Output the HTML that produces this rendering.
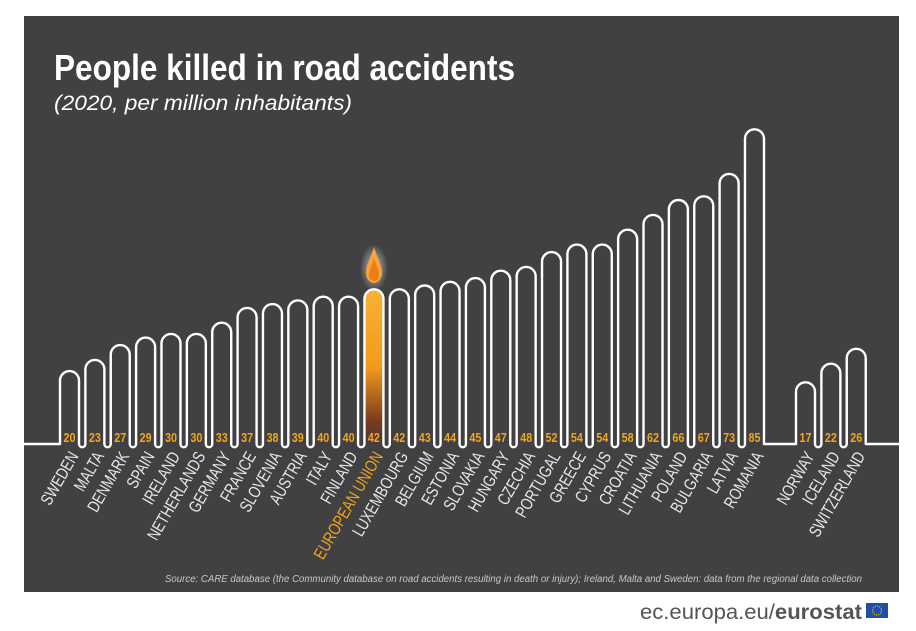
<!DOCTYPE html>
<html><head><meta charset="utf-8"><style>
body{margin:0;background:#fff;width:916px;height:631px;overflow:hidden}
svg{display:block}
.t{font-family:"Liberation Sans Narrow","Liberation Sans",sans-serif}
.v{font-family:"Liberation Sans Narrow","Liberation Sans",sans-serif;font-weight:bold;font-size:12.5px;fill:#f3a51b;text-anchor:middle}
.c{font-family:"Liberation Sans Narrow","Liberation Sans",sans-serif;font-size:17px;fill:#e8e8e8;text-anchor:end}
</style></head><body>
<svg width="916" height="631" viewBox="0 0 916 631" xmlns="http://www.w3.org/2000/svg">
<defs>
<linearGradient id="eu" x1="0" y1="0" x2="0" y2="1">
<stop offset="0" stop-color="#f9b233"/><stop offset="0.5" stop-color="#f39a1e"/><stop offset="0.85" stop-color="#7a3b1c"/><stop offset="1" stop-color="#4a3a3c"/>
</linearGradient>
<radialGradient id="glow"><stop offset="0" stop-color="#fff" stop-opacity="0.7"/><stop offset="1" stop-color="#fff" stop-opacity="0"/></radialGradient>
</defs>
<rect x="24" y="16" width="875" height="576" fill="#414042"/>
<text x="54" y="80" class="t" font-size="36" font-weight="bold" fill="#fff" textLength="461" lengthAdjust="spacingAndGlyphs">People killed in road accidents</text>
<text x="54" y="110" class="t" font-size="21" font-style="italic" fill="#fff" textLength="298" lengthAdjust="spacingAndGlyphs">(2020, per million inhabitants)</text>

<rect x="364.4" y="289.3" width="19" height="155" rx="9.5" fill="url(#eu)"/>
<ellipse cx="374" cy="268" rx="14" ry="24" fill="url(#glow)"/>
<path d="M374 247 C377 257 382 265 382 273 C382 279 378 283 374 283 C370 283 366 279 366 273 C366 265 371 257 374 247Z" fill="#f7a43a"/>
<path d="M374 258 C376 265 379 270 379 275 C379 279 377 281 374 281 C371 281 369 279 369 275 C369 270 372 265 374 258Z" fill="#ee7d18"/>

<path fill="none" stroke="#fff" stroke-width="2.4" stroke-linejoin="round" d="M24 444 H60
V380.6 a9.5 9.5 0 0 1 19 0 V444 a3.185 3.185 0 0 0 6.37 0
V369.4 a9.5 9.5 0 0 1 19 0 V444 a3.185 3.185 0 0 0 6.37 0
V354.6 a9.5 9.5 0 0 1 19 0 V444 a3.185 3.185 0 0 0 6.37 0
V347.1 a9.5 9.5 0 0 1 19 0 V444 a3.185 3.185 0 0 0 6.37 0
V343.4 a9.5 9.5 0 0 1 19 0 V444 a3.185 3.185 0 0 0 6.37 0
V343.4 a9.5 9.5 0 0 1 19 0 V444 a3.185 3.185 0 0 0 6.37 0
V332.2 a9.5 9.5 0 0 1 19 0 V444 a3.185 3.185 0 0 0 6.37 0
V317.4 a9.5 9.5 0 0 1 19 0 V444 a3.185 3.185 0 0 0 6.37 0
V313.6 a9.5 9.5 0 0 1 19 0 V444 a3.185 3.185 0 0 0 6.37 0
V309.9 a9.5 9.5 0 0 1 19 0 V444 a3.185 3.185 0 0 0 6.37 0
V306.2 a9.5 9.5 0 0 1 19 0 V444 a3.185 3.185 0 0 0 6.37 0
V306.2 a9.5 9.5 0 0 1 19 0 V444 a3.185 3.185 0 0 0 6.37 0
V298.8 a9.5 9.5 0 0 1 19 0 V444 a3.185 3.185 0 0 0 6.37 0
V298.8 a9.5 9.5 0 0 1 19 0 V444 a3.185 3.185 0 0 0 6.37 0
V295.0 a9.5 9.5 0 0 1 19 0 V444 a3.185 3.185 0 0 0 6.37 0
V291.3 a9.5 9.5 0 0 1 19 0 V444 a3.185 3.185 0 0 0 6.37 0
V287.6 a9.5 9.5 0 0 1 19 0 V444 a3.185 3.185 0 0 0 6.37 0
V280.2 a9.5 9.5 0 0 1 19 0 V444 a3.185 3.185 0 0 0 6.37 0
V276.4 a9.5 9.5 0 0 1 19 0 V444 a3.185 3.185 0 0 0 6.37 0
V261.6 a9.5 9.5 0 0 1 19 0 V444 a3.185 3.185 0 0 0 6.37 0
V254.1 a9.5 9.5 0 0 1 19 0 V444 a3.185 3.185 0 0 0 6.37 0
V254.1 a9.5 9.5 0 0 1 19 0 V444 a3.185 3.185 0 0 0 6.37 0
V239.2 a9.5 9.5 0 0 1 19 0 V444 a3.185 3.185 0 0 0 6.37 0
V224.4 a9.5 9.5 0 0 1 19 0 V444 a3.185 3.185 0 0 0 6.37 0
V209.5 a9.5 9.5 0 0 1 19 0 V444 a3.185 3.185 0 0 0 6.37 0
V205.8 a9.5 9.5 0 0 1 19 0 V444 a3.185 3.185 0 0 0 6.37 0
V183.4 a9.5 9.5 0 0 1 19 0 V444 a3.185 3.185 0 0 0 6.37 0
V138.8 a9.5 9.5 0 0 1 19 0 V444 H796
V391.8 a9.5 9.5 0 0 1 19 0 V444 a3.185 3.185 0 0 0 6.37 0
V373.2 a9.5 9.5 0 0 1 19 0 V444 a3.185 3.185 0 0 0 6.37 0
V358.3 a9.5 9.5 0 0 1 19 0 V444 H899"/>

<g class="v">
<text x="69.5" y="442" textLength="12" lengthAdjust="spacingAndGlyphs">20</text><text x="94.9" y="442" textLength="12" lengthAdjust="spacingAndGlyphs">23</text><text x="120.2" y="442" textLength="12" lengthAdjust="spacingAndGlyphs">27</text><text x="145.6" y="442" textLength="12" lengthAdjust="spacingAndGlyphs">29</text>
<text x="171" y="442" textLength="12" lengthAdjust="spacingAndGlyphs">30</text><text x="196.4" y="442" textLength="12" lengthAdjust="spacingAndGlyphs">30</text><text x="221.7" y="442" textLength="12" lengthAdjust="spacingAndGlyphs">33</text><text x="247.1" y="442" textLength="12" lengthAdjust="spacingAndGlyphs">37</text>
<text x="272.5" y="442" textLength="12" lengthAdjust="spacingAndGlyphs">38</text><text x="297.8" y="442" textLength="12" lengthAdjust="spacingAndGlyphs">39</text><text x="323.2" y="442" textLength="12" lengthAdjust="spacingAndGlyphs">40</text><text x="348.6" y="442" textLength="12" lengthAdjust="spacingAndGlyphs">40</text>
<text x="373.9" y="442" textLength="12" lengthAdjust="spacingAndGlyphs">42</text><text x="399.3" y="442" textLength="12" lengthAdjust="spacingAndGlyphs">42</text><text x="424.7" y="442" textLength="12" lengthAdjust="spacingAndGlyphs">43</text><text x="450.1" y="442" textLength="12" lengthAdjust="spacingAndGlyphs">44</text>
<text x="475.4" y="442" textLength="12" lengthAdjust="spacingAndGlyphs">45</text><text x="500.8" y="442" textLength="12" lengthAdjust="spacingAndGlyphs">47</text><text x="526.2" y="442" textLength="12" lengthAdjust="spacingAndGlyphs">48</text><text x="551.5" y="442" textLength="12" lengthAdjust="spacingAndGlyphs">52</text>
<text x="576.9" y="442" textLength="12" lengthAdjust="spacingAndGlyphs">54</text><text x="602.3" y="442" textLength="12" lengthAdjust="spacingAndGlyphs">54</text><text x="627.6" y="442" textLength="12" lengthAdjust="spacingAndGlyphs">58</text><text x="653" y="442" textLength="12" lengthAdjust="spacingAndGlyphs">62</text>
<text x="678.4" y="442" textLength="12" lengthAdjust="spacingAndGlyphs">66</text><text x="703.8" y="442" textLength="12" lengthAdjust="spacingAndGlyphs">67</text><text x="729.1" y="442" textLength="12" lengthAdjust="spacingAndGlyphs">73</text><text x="754.5" y="442" textLength="12" lengthAdjust="spacingAndGlyphs">85</text>
<text x="805.5" y="442" textLength="12" lengthAdjust="spacingAndGlyphs">17</text><text x="830.9" y="442" textLength="12" lengthAdjust="spacingAndGlyphs">22</text><text x="856.2" y="442" textLength="12" lengthAdjust="spacingAndGlyphs">26</text>
</g>

<g class="c">
<text transform="translate(79,456) rotate(-60) scale(0.78,1)">SWEDEN</text>
<text transform="translate(104.4,456) rotate(-60) scale(0.78,1)">MALTA</text>
<text transform="translate(129.7,456) rotate(-60) scale(0.78,1)">DENMARK</text>
<text transform="translate(155.1,456) rotate(-60) scale(0.78,1)">SPAIN</text>
<text transform="translate(180.5,456) rotate(-60) scale(0.78,1)">IRELAND</text>
<text transform="translate(205.9,456) rotate(-60) scale(0.78,1)">NETHERLANDS</text>
<text transform="translate(231.2,456) rotate(-60) scale(0.78,1)">GERMANY</text>
<text transform="translate(256.6,456) rotate(-60) scale(0.78,1)">FRANCE</text>
<text transform="translate(282,456) rotate(-60) scale(0.78,1)">SLOVENIA</text>
<text transform="translate(307.3,456) rotate(-60) scale(0.78,1)">AUSTRIA</text>
<text transform="translate(332.7,456) rotate(-60) scale(0.78,1)">ITALY</text>
<text transform="translate(358.1,456) rotate(-60) scale(0.78,1)">FINLAND</text>
<text transform="translate(383.4,456) rotate(-60) scale(0.78,1)" fill="#f3a51b">EUROPEAN UNION</text>
<text transform="translate(408.8,456) rotate(-60) scale(0.78,1)">LUXEMBOURG</text>
<text transform="translate(434.2,456) rotate(-60) scale(0.78,1)">BELGIUM</text>
<text transform="translate(459.6,456) rotate(-60) scale(0.78,1)">ESTONIA</text>
<text transform="translate(484.9,456) rotate(-60) scale(0.78,1)">SLOVAKIA</text>
<text transform="translate(510.3,456) rotate(-60) scale(0.78,1)">HUNGARY</text>
<text transform="translate(535.7,456) rotate(-60) scale(0.78,1)">CZECHIA</text>
<text transform="translate(561,456) rotate(-60) scale(0.78,1)">PORTUGAL</text>
<text transform="translate(586.4,456) rotate(-60) scale(0.78,1)">GREECE</text>
<text transform="translate(611.8,456) rotate(-60) scale(0.78,1)">CYPRUS</text>
<text transform="translate(637.1,456) rotate(-60) scale(0.78,1)">CROATIA</text>
<text transform="translate(662.5,456) rotate(-60) scale(0.78,1)">LITHUANIA</text>
<text transform="translate(687.9,456) rotate(-60) scale(0.78,1)">POLAND</text>
<text transform="translate(713.3,456) rotate(-60) scale(0.78,1)">BULGARIA</text>
<text transform="translate(738.6,456) rotate(-60) scale(0.78,1)">LATVIA</text>
<text transform="translate(764,456) rotate(-60) scale(0.78,1)">ROMANIA</text>
<text transform="translate(815,456) rotate(-60) scale(0.78,1)">NORWAY</text>
<text transform="translate(840.4,456) rotate(-60) scale(0.78,1)">ICELAND</text>
<text transform="translate(865.7,456) rotate(-60) scale(0.78,1)">SWITZERLAND</text>
</g>

<text x="165" y="582" class="t" font-size="10" font-style="italic" fill="#c8c8c8" textLength="697" lengthAdjust="spacingAndGlyphs">Source: CARE database (the Community database on road accidents resulting in death or injury); Ireland, Malta and Sweden: data from the regional data collection</text>
<text x="640" y="619" font-family="Liberation Sans, sans-serif" font-size="21" fill="#555" textLength="222" lengthAdjust="spacingAndGlyphs">ec.europa.eu/<tspan font-weight="bold">eurostat</tspan></text>
<rect x="866" y="603" width="22" height="15" fill="#1f4fa8"/>
<circle cx="877" cy="610.5" r="4.5" fill="none" stroke="#ffd200" stroke-width="1.2" stroke-dasharray="1 1.35"/>
</svg>
</body></html>
